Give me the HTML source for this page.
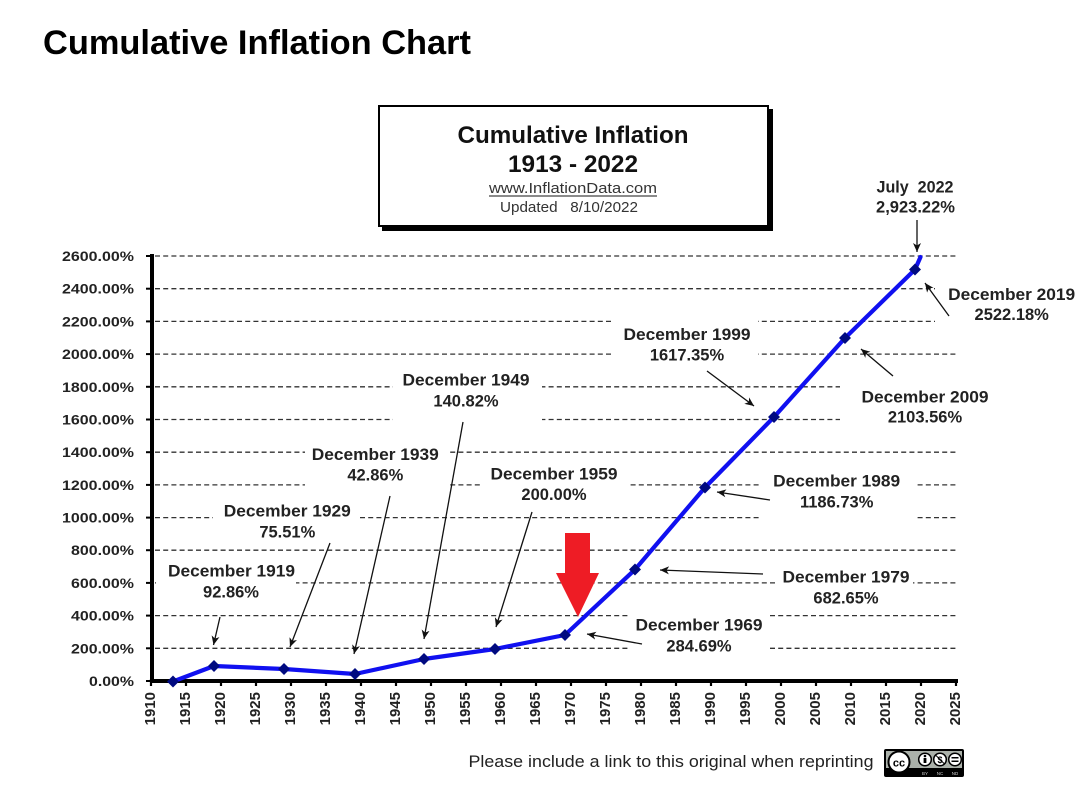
<!DOCTYPE html>
<html><head><meta charset="utf-8"><style>
html,body{margin:0;padding:0;background:#fff;}
svg{display:block;}
text{font-family:"Liberation Sans",Arial,sans-serif;}
</style></head><body>
<svg width="1089" height="802" viewBox="0 0 1089 802" xmlns="http://www.w3.org/2000/svg">
<defs>
<marker id="ah" markerUnits="userSpaceOnUse" markerWidth="10" markerHeight="8" refX="9" refY="4" orient="auto">
<path d="M0,0 L9,4 L0,8 L2.5,4 Z" fill="#111"/>
</marker>
</defs>
<rect width="1089" height="802" fill="#fff"/>

<!-- Page title -->
<text x="43" y="54" font-size="34" font-weight="bold" fill="#000" textLength="428" lengthAdjust="spacingAndGlyphs">Cumulative Inflation Chart</text>

<!-- Title box -->
<rect x="382" y="109" width="391" height="122" fill="#000"/>
<rect x="379" y="106" width="389" height="120" fill="#fff" stroke="#000" stroke-width="2"/>
<text x="573" y="143" font-size="24" font-weight="bold" text-anchor="middle" fill="#111" textLength="231" lengthAdjust="spacingAndGlyphs">Cumulative Inflation</text>
<text x="573" y="172" font-size="24" font-weight="bold" text-anchor="middle" fill="#111" textLength="130" lengthAdjust="spacingAndGlyphs">1913 - 2022</text>
<text x="573" y="193" font-size="15" text-anchor="middle" fill="#333" textLength="168" lengthAdjust="spacingAndGlyphs">www.InflationData.com</text>
<line x1="489" y1="196" x2="657" y2="196" stroke="#444" stroke-width="1.2"/>
<text x="569" y="212" font-size="15" text-anchor="middle" fill="#333" textLength="138" lengthAdjust="spacingAndGlyphs">Updated&#160;&#160;&#160;8/10/2022</text>

<!-- Gridlines -->
<g stroke="#333" stroke-width="1.3" stroke-dasharray="5,3.2">
<line x1="155" y1="648.3" x2="958" y2="648.3"/>
<line x1="155" y1="615.6" x2="958" y2="615.6"/>
<line x1="155" y1="582.9" x2="958" y2="582.9"/>
<line x1="155" y1="550.2" x2="958" y2="550.2"/>
<line x1="155" y1="517.6" x2="958" y2="517.6"/>
<line x1="155" y1="484.9" x2="958" y2="484.9"/>
<line x1="155" y1="452.2" x2="958" y2="452.2"/>
<line x1="155" y1="419.5" x2="958" y2="419.5"/>
<line x1="155" y1="386.8" x2="958" y2="386.8"/>
<line x1="155" y1="354.1" x2="958" y2="354.1"/>
<line x1="155" y1="321.4" x2="958" y2="321.4"/>
<line x1="155" y1="288.7" x2="958" y2="288.7"/>
<line x1="155" y1="256" x2="958" y2="256"/>
</g>

<!-- Label backgrounds -->
<g fill="#fff">
<rect x="156" y="556" width="140" height="49"/>
<rect x="213" y="497" width="144" height="48"/>
<rect x="305" y="440" width="142" height="48"/>
<rect x="393" y="366" width="149" height="61"/>
<rect x="483" y="460" width="145" height="50"/>
<rect x="628" y="611" width="142" height="47"/>
<rect x="775" y="563" width="138" height="47"/>
<rect x="760" y="465" width="155" height="55"/>
<rect x="613" y="317" width="145" height="48"/>
<rect x="840" y="368" width="172" height="62"/>
<rect x="935" y="264" width="154" height="72"/>
</g>

<!-- Axes -->
<g stroke="#000">
<line x1="152" y1="254" x2="152" y2="683" stroke-width="4"/>
<line x1="150" y1="681" x2="958" y2="681" stroke-width="4"/>
</g>
<g stroke="#000" stroke-width="2">
<line x1="146" y1="681" x2="152" y2="681"/>
<line x1="146" y1="648.3" x2="152" y2="648.3"/>
<line x1="146" y1="615.6" x2="152" y2="615.6"/>
<line x1="146" y1="582.9" x2="152" y2="582.9"/>
<line x1="146" y1="550.2" x2="152" y2="550.2"/>
<line x1="146" y1="517.6" x2="152" y2="517.6"/>
<line x1="146" y1="484.9" x2="152" y2="484.9"/>
<line x1="146" y1="452.2" x2="152" y2="452.2"/>
<line x1="146" y1="419.5" x2="152" y2="419.5"/>
<line x1="146" y1="386.8" x2="152" y2="386.8"/>
<line x1="146" y1="354.1" x2="152" y2="354.1"/>
<line x1="146" y1="321.4" x2="152" y2="321.4"/>
<line x1="146" y1="288.7" x2="152" y2="288.7"/>
<line x1="146" y1="256" x2="152" y2="256"/>
</g>
<g stroke="#000" stroke-width="2.2">
<line x1="151" y1="679" x2="151" y2="686"/>
<line x1="186" y1="679" x2="186" y2="686"/>
<line x1="221" y1="679" x2="221" y2="686"/>
<line x1="256" y1="679" x2="256" y2="686"/>
<line x1="291" y1="679" x2="291" y2="686"/>
<line x1="326" y1="679" x2="326" y2="686"/>
<line x1="361" y1="679" x2="361" y2="686"/>
<line x1="396" y1="679" x2="396" y2="686"/>
<line x1="431" y1="679" x2="431" y2="686"/>
<line x1="466" y1="679" x2="466" y2="686"/>
<line x1="501" y1="679" x2="501" y2="686"/>
<line x1="536" y1="679" x2="536" y2="686"/>
<line x1="571" y1="679" x2="571" y2="686"/>
<line x1="606" y1="679" x2="606" y2="686"/>
<line x1="641" y1="679" x2="641" y2="686"/>
<line x1="676" y1="679" x2="676" y2="686"/>
<line x1="711" y1="679" x2="711" y2="686"/>
<line x1="746" y1="679" x2="746" y2="686"/>
<line x1="781" y1="679" x2="781" y2="686"/>
<line x1="816" y1="679" x2="816" y2="686"/>
<line x1="851" y1="679" x2="851" y2="686"/>
<line x1="886" y1="679" x2="886" y2="686"/>
<line x1="921" y1="679" x2="921" y2="686"/>
<line x1="956" y1="679" x2="956" y2="686"/>
</g>

<!-- Y labels -->
<g font-size="14" font-weight="bold" fill="#222" text-anchor="end">
<text x="134" y="686" textLength="45" lengthAdjust="spacingAndGlyphs">0.00%</text>
<text x="134" y="653.3" textLength="63" lengthAdjust="spacingAndGlyphs">200.00%</text>
<text x="134" y="620.6" textLength="63" lengthAdjust="spacingAndGlyphs">400.00%</text>
<text x="134" y="587.9" textLength="63" lengthAdjust="spacingAndGlyphs">600.00%</text>
<text x="134" y="555.2" textLength="63" lengthAdjust="spacingAndGlyphs">800.00%</text>
<text x="134" y="522.6" textLength="72" lengthAdjust="spacingAndGlyphs">1000.00%</text>
<text x="134" y="489.9" textLength="72" lengthAdjust="spacingAndGlyphs">1200.00%</text>
<text x="134" y="457.2" textLength="72" lengthAdjust="spacingAndGlyphs">1400.00%</text>
<text x="134" y="424.5" textLength="72" lengthAdjust="spacingAndGlyphs">1600.00%</text>
<text x="134" y="391.8" textLength="72" lengthAdjust="spacingAndGlyphs">1800.00%</text>
<text x="134" y="359.1" textLength="72" lengthAdjust="spacingAndGlyphs">2000.00%</text>
<text x="134" y="326.4" textLength="72" lengthAdjust="spacingAndGlyphs">2200.00%</text>
<text x="134" y="293.7" textLength="72" lengthAdjust="spacingAndGlyphs">2400.00%</text>
<text x="134" y="261" textLength="72" lengthAdjust="spacingAndGlyphs">2600.00%</text>
</g>

<!-- X labels -->
<g font-size="15" font-weight="bold" fill="#222" text-anchor="end">
<text x="155" y="692" transform="rotate(-90 155 692)">1910</text>
<text x="190" y="692" transform="rotate(-90 190 692)">1915</text>
<text x="225" y="692" transform="rotate(-90 225 692)">1920</text>
<text x="260" y="692" transform="rotate(-90 260 692)">1925</text>
<text x="295" y="692" transform="rotate(-90 295 692)">1930</text>
<text x="330" y="692" transform="rotate(-90 330 692)">1935</text>
<text x="365" y="692" transform="rotate(-90 365 692)">1940</text>
<text x="400" y="692" transform="rotate(-90 400 692)">1945</text>
<text x="435" y="692" transform="rotate(-90 435 692)">1950</text>
<text x="470" y="692" transform="rotate(-90 470 692)">1955</text>
<text x="505" y="692" transform="rotate(-90 505 692)">1960</text>
<text x="540" y="692" transform="rotate(-90 540 692)">1965</text>
<text x="575" y="692" transform="rotate(-90 575 692)">1970</text>
<text x="610" y="692" transform="rotate(-90 610 692)">1975</text>
<text x="645" y="692" transform="rotate(-90 645 692)">1980</text>
<text x="680" y="692" transform="rotate(-90 680 692)">1985</text>
<text x="715" y="692" transform="rotate(-90 715 692)">1990</text>
<text x="750" y="692" transform="rotate(-90 750 692)">1995</text>
<text x="785" y="692" transform="rotate(-90 785 692)">2000</text>
<text x="820" y="692" transform="rotate(-90 820 692)">2005</text>
<text x="855" y="692" transform="rotate(-90 855 692)">2010</text>
<text x="890" y="692" transform="rotate(-90 890 692)">2015</text>
<text x="925" y="692" transform="rotate(-90 925 692)">2020</text>
<text x="960" y="692" transform="rotate(-90 960 692)">2025</text>
</g>

<!-- Data line -->
<polyline fill="none" stroke="#1010f0" stroke-width="4.2" stroke-linejoin="round" stroke-linecap="round"
 points="173,681.5 214,666 284,669 355,674 424,659 495,649 565,635 635,569.5 705,487.5 774,417 845,338 915,269.5 920.5,257"/>
<g fill="#000a80">
<polygon points="173,675.5 179,681.5 173,687.5 167,681.5"/>
<polygon points="214,660 220,666 214,672 208,666"/>
<polygon points="284,663 290,669 284,675 278,669"/>
<polygon points="355,668 361,674 355,680 349,674"/>
<polygon points="424,653 430,659 424,665 418,659"/>
<polygon points="495,643 501,649 495,655 489,649"/>
<polygon points="565,629 571,635 565,641 559,635"/>
<polygon points="635,563.5 641,569.5 635,575.5 629,569.5"/>
<polygon points="705,481.5 711,487.5 705,493.5 699,487.5"/>
<polygon points="774,411 780,417 774,423 768,417"/>
<polygon points="845,332 851,338 845,344 839,338"/>
<polygon points="915,263.5 921,269.5 915,275.5 909,269.5"/>
</g>

<!-- Red arrow -->
<polygon points="565,533 590,533 590,573 599,573 578,617 556,573 565,573" fill="#ee1c25"/>

<!-- Annotation arrows -->
<g stroke="#111" stroke-width="1.3" fill="none" marker-end="url(#ah)">
<line x1="220" y1="617" x2="213.5" y2="645"/>
<line x1="330" y1="543" x2="290" y2="647"/>
<line x1="390" y1="496" x2="354" y2="654"/>
<line x1="463" y1="422" x2="424" y2="639"/>
<line x1="532" y1="512" x2="496" y2="627"/>
<line x1="642" y1="644" x2="587" y2="634"/>
<line x1="763" y1="574" x2="660" y2="570"/>
<line x1="770" y1="500" x2="717" y2="492"/>
<line x1="707" y1="371" x2="754" y2="406"/>
<line x1="893" y1="376" x2="861" y2="349"/>
<line x1="949" y1="316" x2="925" y2="283"/>
<line x1="917" y1="220" x2="917" y2="252"/>
</g>

<!-- Annotation labels -->
<g font-size="16.5" font-weight="bold" fill="#222" text-anchor="middle">
<text x="231.5" y="576.7" textLength="127" lengthAdjust="spacingAndGlyphs">December 1919</text>
<text x="231" y="597.3">92.86%</text>
<text x="287.3" y="516.7" textLength="127" lengthAdjust="spacingAndGlyphs">December 1929</text>
<text x="287.3" y="537.7">75.51%</text>
<text x="375.3" y="460" textLength="127" lengthAdjust="spacingAndGlyphs">December 1939</text>
<text x="375.3" y="480.7">42.86%</text>
<text x="466" y="385.7" textLength="127" lengthAdjust="spacingAndGlyphs">December 1949</text>
<text x="466" y="406.7">140.82%</text>
<text x="554" y="479.3" textLength="127" lengthAdjust="spacingAndGlyphs">December 1959</text>
<text x="554" y="500">200.00%</text>
<text x="699" y="630.7" textLength="127" lengthAdjust="spacingAndGlyphs">December 1969</text>
<text x="699" y="651.7">284.69%</text>
<text x="846" y="582.7" textLength="127" lengthAdjust="spacingAndGlyphs">December 1979</text>
<text x="846" y="603.3">682.65%</text>
<text x="836.7" y="486.7" textLength="127" lengthAdjust="spacingAndGlyphs">December 1989</text>
<text x="836.7" y="507.3">1186.73%</text>
<text x="687" y="340" textLength="127" lengthAdjust="spacingAndGlyphs">December 1999</text>
<text x="687" y="360.7">1617.35%</text>
<text x="925" y="402.3" textLength="127" lengthAdjust="spacingAndGlyphs">December 2009</text>
<text x="925" y="422.3">2103.56%</text>
<text x="1011.7" y="300" textLength="127" lengthAdjust="spacingAndGlyphs">December 2019</text>
<text x="1011.7" y="320">2522.18%</text>
<text x="915" y="192.3" textLength="77" lengthAdjust="spacingAndGlyphs">July&#160;&#160;2022</text>
<text x="915.5" y="212.7">2,923.22%</text>
</g>

<!-- Footer -->
<text x="468.5" y="767" font-size="16.5" fill="#222" textLength="405" lengthAdjust="spacingAndGlyphs">Please include a link to this original when reprinting</text>

<!-- CC badge -->
<g>
<rect x="884" y="749" width="80" height="28" rx="2" fill="#000"/>
<rect x="886" y="751" width="76" height="17" fill="#abb1aa"/>
<circle cx="899" cy="762" r="10.5" fill="#fff" stroke="#000" stroke-width="2"/>
<text x="899" y="766.5" font-size="11" font-weight="bold" text-anchor="middle" fill="#000">cc</text>
<circle cx="925" cy="759.5" r="6.3" fill="#fff" stroke="#000" stroke-width="1.5"/>
<circle cx="925" cy="756" r="1.3" fill="#000"/>
<rect x="923.6" y="758" width="2.8" height="5" fill="#000"/>
<circle cx="940" cy="759.5" r="6.3" fill="#fff" stroke="#000" stroke-width="1.5"/>
<text x="940" y="763" font-size="9" font-weight="bold" text-anchor="middle" fill="#000">$</text>
<line x1="935.5" y1="755" x2="944.5" y2="764" stroke="#000" stroke-width="1"/>
<circle cx="955" cy="759.5" r="6.3" fill="#fff" stroke="#000" stroke-width="1.5"/>
<rect x="951.5" y="757" width="7" height="1.5" fill="#000"/>
<rect x="951.5" y="760.5" width="7" height="1.5" fill="#000"/>
<text x="925" y="775" font-size="4.5" text-anchor="middle" fill="#ccc">BY</text>
<text x="940" y="775" font-size="4.5" text-anchor="middle" fill="#ccc">NC</text>
<text x="955" y="775" font-size="4.5" text-anchor="middle" fill="#ccc">ND</text>
</g>
</svg>
</body></html>
